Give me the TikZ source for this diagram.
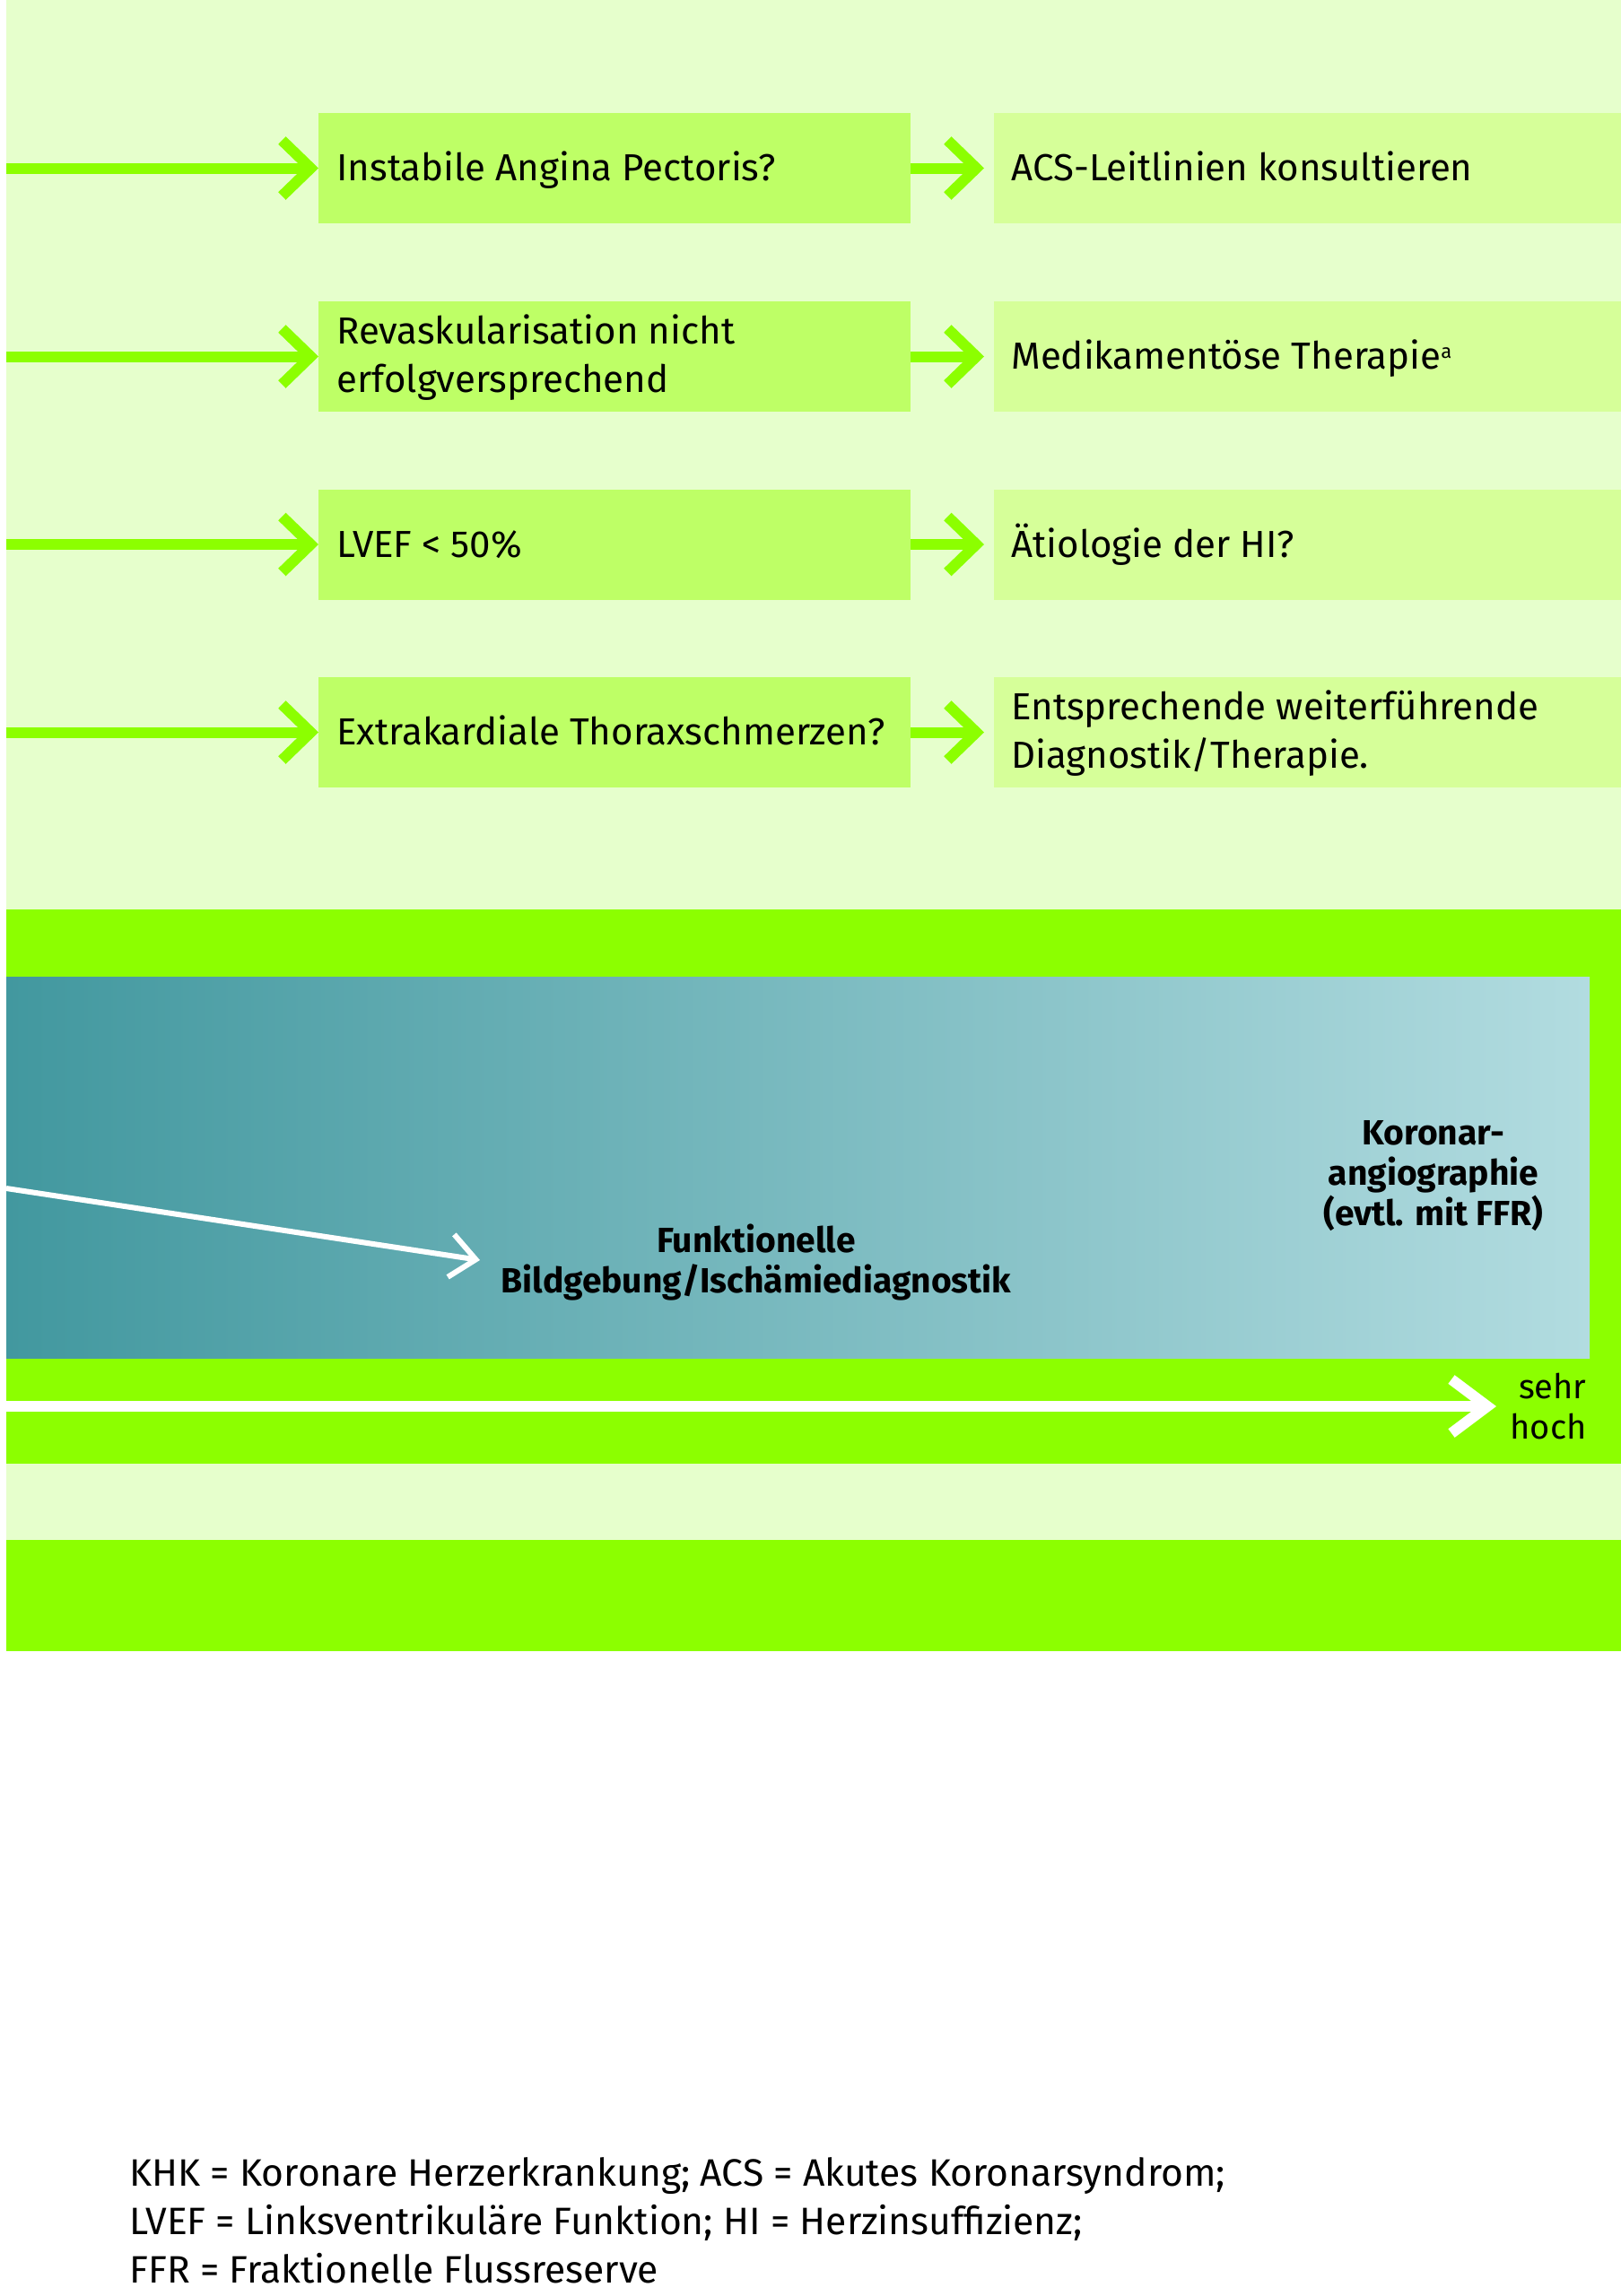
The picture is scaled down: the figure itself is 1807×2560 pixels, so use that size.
\documentclass[tikz,border=0pt]{standalone}
\usepackage{fontspec}
\setmainfont{Fira Sans}
\usetikzlibrary{arrows.meta}
\definecolor{bglight}{HTML}{E6FFCC}
\definecolor{bgreen}{HTML}{8CFF00}
\definecolor{lboxc}{HTML}{BEFF66}
\definecolor{rboxc}{HTML}{D6FF99}
\definecolor{tealA}{HTML}{42989F}
\definecolor{tealB}{HTML}{B2DCE0}
\tikzset{
  lbox/.style={fill=lboxc, draw=none, minimum width=330pt, minimum height=61.5pt, inner sep=0pt, outer sep=0pt},
  rbox/.style={fill=rboxc, draw=none, minimum width=349.5pt, minimum height=61.5pt, inner sep=0pt, outer sep=0pt},
  txt/.style={font=\fontsize{21pt}{27pt}\selectfont, inner sep=0pt, anchor=base west, align=left},
  btxt/.style={font=\fontsize{19.5pt}{22.5pt}\selectfont\bfseries, inner sep=0pt, align=center},
  stxt/.style={font=\fontsize{19pt}{22.5pt}\selectfont, inner sep=0pt, align=right},
  garrow/.style={draw=bgreen, line width=6pt, -{Straight Barb[length=16pt,width=31pt,line width=6pt]}},
  warrow/.style={draw=white, line width=6pt, -{Straight Barb[length=20pt,width=30pt,line width=6pt]}},
  wthin/.style={draw=white, line width=3pt, -{Straight Barb[length=14pt,width=24pt,line width=3pt]}},
}
\newcommand{\mysupa}{\raisebox{6pt}{\fontsize{11pt}{11pt}\selectfont a}}
\begin{document}
\begin{tikzpicture}[x=0.5pt,y=-0.5pt]
\useasboundingbox (0,0) rectangle (1807,2560);
\fill[white] (0,0) rectangle (1807,2560);
\fill[bglight] (7,0) rectangle (1807,1014);
\fill[bgreen] (7,1014) rectangle (1807,1632);
\fill[bglight] (7,1632) rectangle (1807,1717);
\fill[bgreen] (7,1717) rectangle (1807,1841);
\node[draw=none, inner sep=0pt, outer sep=0pt, minimum width=882.5pt, minimum height=212.5pt, left color=tealA, right color=tealB, shading angle=90] (grad) at (889.5,1301.5) {};

% boxes
\node[lbox] (l1) at (685,187.5) {};
\node[lbox] (l2) at (685,397.5) {};
\node[lbox] (l3) at (685,607) {};
\node[lbox] (l4) at (685,816.5) {};
\node[rbox] (r1) at (1457.5,187.5) {};
\node[rbox] (r2) at (1457.5,397.5) {};
\node[rbox] (r3) at (1457.5,607) {};
\node[rbox] (r4) at (1457.5,816.5) {};

% texts (base anchor = baseline of last line)
\node[txt] (tl1) at (375,201.5) {Instabile Angina Pectoris?};
\node[txt] (tl2) at (375,437.5) {Revaskularisation nicht\\erfolgversprechend};
\node[txt] (tl3) at (375,621) {LVEF < 50\%};
\node[txt] (tl4) at (375,830.5) {Extrakardiale Thoraxschmerzen?};
\node[txt] (tr1) at (1127,201.5) {ACS-Leitlinien konsultieren};
\node[txt] (tr2) at (1127,411.5) {Medikamentöse Therapie\mysupa};
\node[txt] (tr3) at (1127,621) {Ätiologie der HI?};
\node[txt] (tr4) at (1127,856.5) {Entsprechende weiterführende\\Diagnostik/Therapie.};

% incoming arrows
\foreach \i in {1,2,3,4} {
  \coordinate (s\i) at (7,0 |- l\i.west);
  \draw[garrow] (s\i) -- (l\i.west);
  \draw[garrow, shorten >=5.5pt] (l\i.east) -- (r\i.west);
}

% lower section
\node[btxt, anchor=base] (funk) at (843,1441) {Funktionelle\\Bildgebung/Ischämiediagnostik};
\node[btxt, anchor=base] (koro) at (1598,1366) {Koronar-\\angiographie\\(evtl. mit FFR)};
\coordinate (dstart) at (7,1325);
\coordinate (dend) at (535,1405);
\draw[wthin] (dstart) -- (dend);
\coordinate (hstart) at (7,1568);
\coordinate (hend) at (1668,1568);
\draw[warrow] (hstart) -- (hend);
\node[stxt, anchor=base east] (sehr) at (1769,1604) {sehr\\hoch};

% footer
\node[txt, font=\fontsize{21.3pt}{27pt}\selectfont] (foot) at (144,2545) {KHK = Koronare Herzerkrankung; ACS = Akutes Koronarsyndrom;\\LVEF = Linksventrikuläre Funktion; HI = Herzinsuffizienz;\\FFR = Fraktionelle Flussreserve};
\end{tikzpicture}
\end{document}
